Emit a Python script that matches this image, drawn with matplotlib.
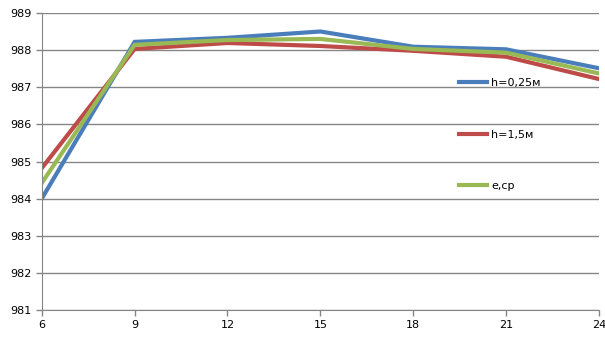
import matplotlib
matplotlib.use("Agg")
import matplotlib.pyplot as plt

hours = [6, 9, 12, 15, 18, 21, 24]
h025 = [984.0, 988.22, 988.33, 988.5, 988.09, 988.02, 987.51]
h15 = [984.82, 988.03, 988.19, 988.11, 987.98, 987.82, 987.22]
e_cp = [984.42, 988.14, 988.27, 988.3, 988.03, 987.93, 987.37]

labels = ["h=0,25м", "h=1,5м", "e,cp"]
colors = ["#4A7EBB", "#BE4B48", "#98B954"]

plt.rcParams["font.family"] = ["DejaVu Sans"]
plt.rcParams["font.size"] = 8

fig = plt.figure(figsize=(6.05, 3.4), dpi=100)
ax = fig.add_axes([0.069, 0.088, 0.921, 0.874])

for ys, lab, c in zip([h025, h15, e_cp], labels, colors):
    ax.plot(hours, ys, color=c, lw=3, label=lab, solid_joinstyle="miter")

ax.set_xlim(6, 24)
ax.set_ylim(981, 989)
ax.set_xticks(hours)
ax.set_yticks(range(981, 990))
ax.yaxis.grid(True, color="#868686", lw=1)
ax.set_axisbelow(True)
for s in ["top", "right"]:
    ax.spines[s].set_visible(False)
for s in ["left", "bottom"]:
    ax.spines[s].set_color("#868686")
ax.tick_params(axis="both", colors="#868686", labelcolor="black", length=4, width=1)

fig.legend(loc="upper left", bbox_to_anchor=(0.742, 0.80), frameon=False,
           labelspacing=3.75, handlelength=2.5, handletextpad=0.4)

fig.savefig("out.png", dpi=100)
